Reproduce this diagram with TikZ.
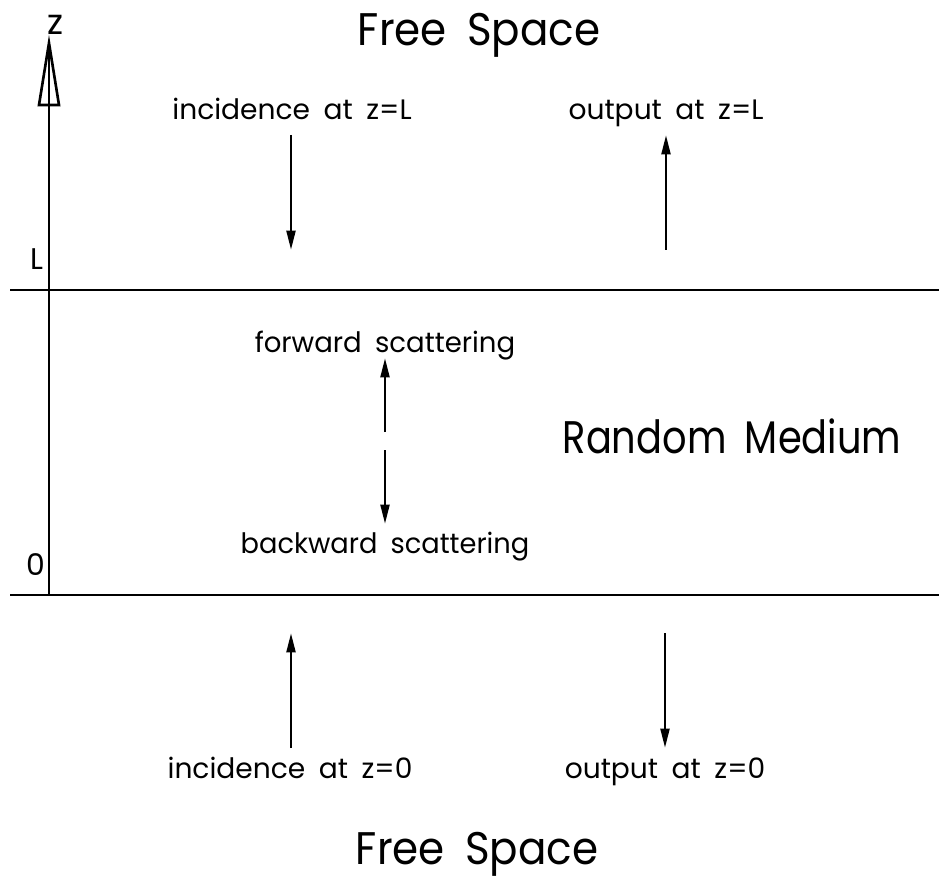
\documentclass[tikz,border=0pt]{standalone}
\usepackage{fontspec}
\usepackage{graphicx}
\setmainfont{Poppins}
\newfontfamily\lblfont[WordSpace=1.7]{Poppins}
\newfontfamily\bigfont[WordSpace=1.8]{Poppins}
\usetikzlibrary{arrows.meta}
\begin{document}
\begin{tikzpicture}[x=0.02cm,y=-0.02cm,
  every node/.style={inner sep=0pt, outer sep=0pt, anchor=base},
  lbl/.style={font=\lblfont\fontsize{16}{19}\selectfont},
  big/.style={font=\bigfont\fontsize{26}{30}\selectfont},
  axl/.style={font=\fontsize{17}{20}\selectfont},
  rule/.style={line width=1.5pt},
  flow/.style={line width=1.5pt, -{Triangle[length=11pt,width=5pt]}}]
  \useasboundingbox (0,0) rectangle (939,881);

  % boundaries of the random layer
  \coordinate (topL) at (10,290);
  \coordinate (topR) at (939,290);
  \coordinate (botL) at (10,595);
  \coordinate (botR) at (939,595);
  \draw[rule] (topL) -- (topR);
  \draw[rule] (botL) -- (botR);

  % z axis with open arrowhead
  \coordinate (ax0) at (49,595);
  \coordinate (axtip) at (49,43);
  \draw[line width=1.5pt] (ax0) -- (axtip);
  \draw[line width=1.5pt, line join=miter] (axtip) -- (59,105) -- (39,105) -- cycle;
  \node (zlab) at (55,35) [font=\fontsize{20}{24}\selectfont] {z};
  \node (Llab) at (37,270) [axl] {L};
  \node (Olab) at (36,575) [axl] {0};

  % region titles
  \node (fsTop) at (479,46) [big] {\scalebox{0.92}[1]{Free Space}};
  \node (fsBot) at (477,864) [big] {\scalebox{0.92}[1]{Free Space}};
  \node (rm) at (732,453) [big] {\scalebox{0.84}[1]{Random Medium}};

  % upper free space
  \node (incL) at (292,120) [lbl] {incidence at z=L};
  \node (outL) at (666,120) [lbl] {output at z=L};
  \coordinate (incLa) at (291,135);
  \coordinate (incLb) at (291,250);
  \coordinate (outLa) at (666,250);
  \coordinate (outLb) at (666,135);
  \draw[flow] (incLa) -- (incLb);
  \draw[flow] (outLa) -- (outLb);

  % scattering inside the medium
  \node (fwd) at (385,353) [lbl] {\scalebox{0.98}[1]{forward scattering}};
  \node (bwd) at (385,553) [lbl] {\scalebox{0.97}[1]{backward scattering}};
  \coordinate (fwa) at (385,432);
  \coordinate (fwb) at (385,358);
  \coordinate (bwa) at (385,450);
  \coordinate (bwb) at (385,524);
  \draw[flow] (fwa) -- (fwb);
  \draw[flow] (bwa) -- (bwb);

  % lower free space
  \node (inc0) at (290,778) [lbl] {incidence at z=0};
  \node (out0) at (665,778) [lbl] {output at z=0};
  \coordinate (inc0a) at (291,748);
  \coordinate (inc0b) at (291,633);
  \coordinate (out0a) at (665,633);
  \coordinate (out0b) at (665,748);
  \draw[flow] (inc0a) -- (inc0b);
  \draw[flow] (out0a) -- (out0b);
\end{tikzpicture}
\end{document}
